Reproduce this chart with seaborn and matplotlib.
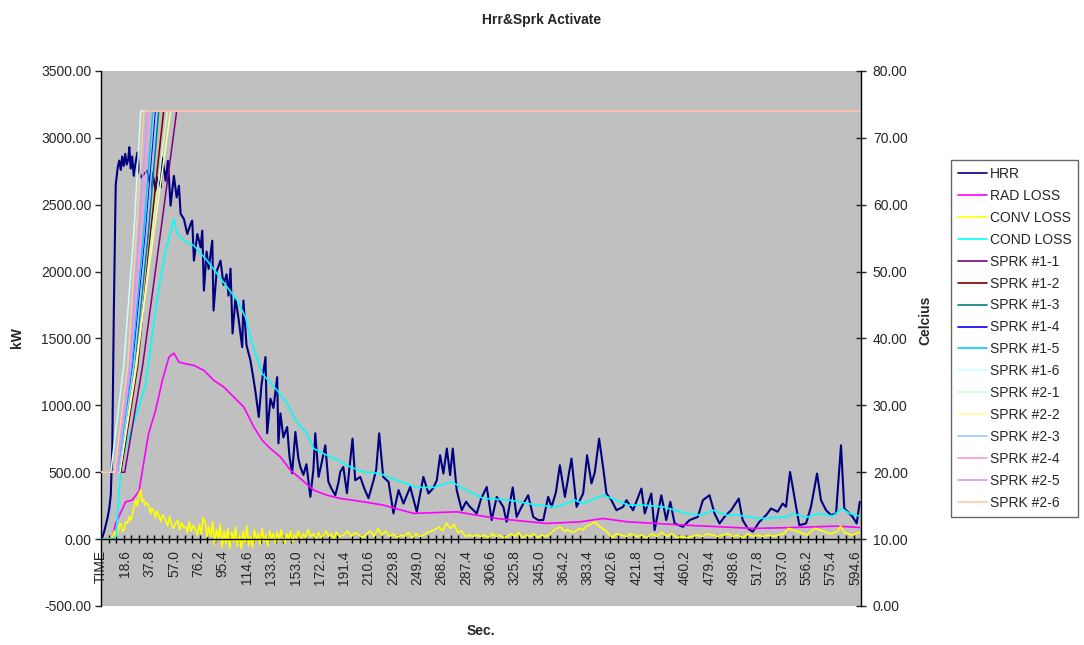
"""Hrr&Sprk Activate: curvas de HRR, perdas e ativação dos sprinklers."""

import numpy as np
import pandas as pd
import seaborn as sns
import matplotlib.pyplot as plt
from matplotlib.lines import Line2D
from matplotlib.ticker import FormatStrFormatter

# --- dados (tempo em s, potência em kW) ---
hrr_t = [0, 2.0, 4.5, 5.9, 7.1, 8.3, 9.5, 11.0, 12.6, 13.8,
         15.0, 16.1, 17.3, 18.5, 19.7, 20.9, 21.7, 22.8, 24.0, 25.2,
         26.4, 28.1, 29.5, 30.7, 33.3, 36.0, 38.6, 39.9, 42.5, 43.9,
         46.5, 47.8, 50.4, 52.2, 54.3, 56.9, 59.1, 60.9, 62.2, 64.8,
         67.5, 70.1, 71.4, 72.7, 75.4, 78.0, 79.3, 80.6, 82.7, 84.3,
         87.2, 88.2, 90.6, 93.7, 96.1, 98.5, 100.0, 101.6, 103.2, 105.5,
         107.9, 110.8, 111.8, 114.2, 117.3, 119.7, 121.3, 123.9, 126.0, 129.2,
         130.5, 133.1, 135.5, 138.4, 139.4, 141.0, 143.3, 146.3, 148.1, 150.2,
         152.8, 155.2, 156.7, 159.1, 161.5, 164.6, 167.0, 168.5, 171.1, 173.3,
         176.4, 178.8, 181.1, 184.3, 186.7, 188.2, 190.6, 193.5, 195.3, 197.9,
         200.0, 204.0, 207.1, 210.5, 214.5, 216.6, 218.9, 222.1, 226.3, 230.2,
         234.2, 238.1, 243.4, 248.6, 253.8, 257.8, 261.5, 264.4, 267.0, 269.6,
         272.3, 274.9, 277.0, 280.1, 284.1, 287.5, 290.6, 295.9, 299.3, 303.8,
         307.7, 311.7, 316.9, 319.5, 324.3, 327.4, 331.3, 336.5, 340.5, 344.4,
         348.4, 352.3, 355.0, 358.4, 361.5, 365.5, 370.7, 374.7, 379.9, 383.0,
         386.5, 389.1, 392.5, 395.6, 398.3, 402.2, 406.2, 411.4, 414.1, 419.3,
         425.9, 428.5, 433.7, 436.3, 441.6, 445.5, 448.7, 452.1, 458.6, 463.9,
         470.4, 474.4, 479.6, 483.6, 487.5, 491.4, 496.7, 502.7, 505.8, 509.8,
         513.7, 519.0, 524.3, 528.2, 533.4, 537.4, 540.0, 543.2, 546.6, 550.5,
         555.8, 559.7, 564.5, 567.6, 571.6, 575.5, 579.5, 583.4, 586.0, 590.0,
         592.6, 595.8, 598.2]
hrr_kw = [0, 60, 157, 230, 330, 700, 1700, 2650, 2780, 2830,
          2760, 2860, 2790, 2880, 2800, 2840, 2930, 2770, 2860, 2716,
          2800, 2890, 2750, 2704, 2730, 2754, 2629, 2741, 2605, 2704,
          2629, 2853, 2679, 2828, 2493, 2716, 2555, 2642, 2433, 2393,
          2281, 2356, 2381, 2082, 2281, 2181, 2306, 1858, 2150, 2020,
          2231, 1709, 2000, 2082, 1900, 1980, 1820, 2022, 1537, 1800,
          1650, 1435, 1784, 1450, 1336, 1200, 1100, 913, 1150, 1361,
          791, 1050, 980, 1211, 716, 940, 760, 838, 620, 493,
          801, 600, 540, 480, 560, 316, 520, 791, 465, 560,
          701, 430, 380, 328, 420, 502, 540, 343, 520, 751,
          440, 465, 380, 306, 440, 520, 791, 465, 428, 192,
          366, 266, 390, 204, 465, 341, 380, 440, 627, 490,
          677, 478, 677, 366, 216, 280, 241, 192, 300, 390,
          142, 316, 241, 129, 386, 166, 241, 328, 166, 142,
          142, 316, 241, 350, 552, 316, 602, 241, 341, 627,
          416, 500, 751, 540, 341, 291, 216, 241, 291, 216,
          378, 192, 341, 67, 328, 142, 279, 117, 92, 142,
          166, 291, 328, 192, 117, 166, 216, 303, 142, 80,
          55, 129, 179, 229, 204, 266, 241, 502, 316, 104,
          117, 241, 490, 291, 216, 179, 192, 701, 229, 192,
          166, 117, 279]

rad_t = [0, 8, 11, 15, 18.9, 24, 29.4, 34.7, 37, 42.5, 47.8, 53, 56.9, 60.9, 66,
         72.7, 80.6, 88.4, 96.3, 104.2, 112.1, 120, 126.6, 133.1, 141, 148.9,
         156.7, 167.2, 177.8, 188.2, 206.6, 222.3, 246, 280.1, 311.7, 351,
         377.3, 395.6, 415.3, 461.3, 513.7, 540, 579.5, 598]
rad_kw = [0, 0, 119, 200, 279, 291, 360, 664, 791, 963, 1187, 1361, 1390, 1323, 1311,
          1299, 1261, 1187, 1137, 1062, 987, 838, 739, 677, 614, 515,
          453, 366, 328, 304, 279, 254, 192, 204, 154, 117,
          129, 154, 129, 104, 80, 85, 97, 87]

cond_t = [0, 10, 11.5, 13.6, 16.3, 20.2, 26.8, 34.7, 39.9, 45.1, 50.4, 54.3, 56.9,
          59.6, 64.8, 72.7, 83.2, 91.1, 99, 106.9, 113.4, 118.7, 126.6, 138.4,
          146.3, 152.8, 162, 167.2, 177.8, 188.2, 196.1, 206.6, 219.7, 232.9,
          248.6, 261.7, 276.2, 285.3, 301.1, 322.1, 343.2, 358.9, 373.3, 379.9,
          395.6, 406.2, 415.3, 427.1, 442.9, 461.3, 473.1, 482.3, 492.8, 502,
          519, 540, 545.3, 555.8, 566.3, 576.8, 584.2, 590, 598]
cond_kw = [0, 0, 30, 366, 590, 739, 913, 1162, 1535, 1883, 2157, 2293, 2393,
           2281, 2231, 2194, 2082, 1983, 1883, 1784, 1659, 1461, 1237, 1112,
           1013, 888, 789, 677, 627, 580, 540, 502, 490, 440,
           386, 386, 428, 378, 304, 291, 254, 241, 291, 266,
           328, 291, 254, 254, 241, 192, 179, 216, 179, 179,
           154, 166, 192, 162, 192, 172, 229, 192, 172]

conv_t = [0, 6, 8, 10, 11, 12.4, 14, 15, 16.5, 17.6, 19, 20.5, 21.5, 23, 24.5, 26,
          26.8, 28, 29.4, 30.7, 31.5, 33, 34, 35.5, 37.3, 38.5, 39.5, 41.2, 42.5,
          43.5, 45.1, 46.5, 48, 50.4, 52, 53.5, 55, 56.5, 58.3, 60, 61.5, 63,
          64.5, 66.2, 67.5, 69, 70.5, 72, 74, 75.5, 77, 78.5, 80, 81.9, 83, 84.5,
          86, 87.5, 89, 90.5, 92, 93.5, 95, 96.5, 98, 99.5, 101, 102.5, 104,
          105.5, 107, 108.5, 110, 111.5, 113, 114.5, 116, 117.5, 119, 120.5, 122,
          123.5, 125, 126.5, 128, 129.5, 131, 132.5, 134, 135.5, 137, 138.5, 140,
          141.5, 143, 144.5, 146, 147.5, 149, 150.5, 152, 153.5, 155, 157, 159,
          161, 163, 165, 167, 169, 171, 173, 175, 177, 179, 181, 183, 185, 188,
          191, 194, 197, 200, 203, 206, 209, 212, 215, 218, 221, 224, 227, 230,
          233, 236, 239, 242, 245, 248, 251, 254, 257, 260, 263, 266, 269, 272,
          275, 278, 281, 284, 287, 290, 293, 296, 299, 302, 305, 308, 311, 314,
          317, 320, 323, 326, 329, 332, 335, 338, 341, 344, 347, 350, 353, 356,
          359, 362, 365, 368, 371, 374, 377, 380, 383, 386, 389, 392, 395, 398,
          401, 403, 406, 410, 414, 418, 422, 426, 430, 434, 438, 442, 446, 450,
          454, 458, 462, 466, 470, 474, 478, 482, 486, 490, 494, 498, 502, 506,
          510, 514, 518, 522, 526, 530, 534, 538, 542, 545, 548, 551, 554, 557,
          560, 563, 566, 569, 572, 575, 578, 581, 583, 586, 589, 592, 595, 598]
conv_kw = [0, 0, 10, 60, 20, 42, 110, 117, 60, 67, 130, 120, 166, 141, 200, 260,
           291, 250, 341, 366, 280, 300, 254, 270, 241, 190, 230, 204, 160,
           210, 179, 130, 180, 142, 100, 170, 110, 80, 117, 140, 70, 120,
           90, 92, 50, 130, 60, 100, 67, 30, 110, 40, 160, 117, 17, 90,
           20, 130, -40, 70, 0, 110, -60, 60, -30, 80, -70, 50, -20,
           90, -50, 30, -70, 60, -30, 100, -50, 20, -60, 70, -10,
           40, -40, 80, -20, 30, -50, 60, 0, 40, -30, 50, -10,
           70, 10, -30, 40, 0, 60, -20, 30, 10, 60, 0, 40,
           10, 70, 20, 40, 0, 50, 10, 30, 60, 20, 40, 0, 50, 20,
           30, 60, 20, 50, 30, 10, 40, 60, 20, 80, 30, 60, 20, 40,
           10, 30, 20, 50, 10, 40, 20, 30, 50, 60, 70, 90, 60, 120,
           80, 110, 50, 60, 20, 30, 20, 30, 20, 30, 10, 40, 20, 30,
           10, 20, 40, 20, 50, 10, 30, 20, 40, 10, 30, 20, 30, 60,
           80, 90, 60, 70, 50, 60, 80, 70, 100, 110, 129, 100, 80, 60,
           30, 10, 40, 30, 20, 40, 20, 30, 10, 40, 20, 50, 20, 40,
           10, 20, 10, 20, 30, 20, 40, 30, 20, 30, 40, 20, 30, 10,
           40, 20, 30, 20, 30, 20, 30, 40, 80, 70, 60, 50, 40, 30,
           60, 80, 70, 60, 50, 40, 50, 60, 97, 50, 40, 30, 40, 50]

kw_names = ['HRR', 'RAD LOSS', 'CONV LOSS', 'COND LOSS']
kw_colors = ['#000080', '#FF00FF', '#FFFF00', '#00FFFF']

# sprinklers (°C): instante em que cada curva passa por 20, 36, 56 e 74 °C
sprk_names = ['SPRK #1-1', 'SPRK #1-2', 'SPRK #1-3', 'SPRK #1-4', 'SPRK #1-5', 'SPRK #1-6',
              'SPRK #2-1', 'SPRK #2-2', 'SPRK #2-3', 'SPRK #2-4', 'SPRK #2-5', 'SPRK #2-6']
sprk_colors = ['#800080', '#800000', '#008080', '#0000FF', '#00CCFF', '#CCFFFF',
               '#CCFFCC', '#FFFF99', '#99CCFF', '#FF99CC', '#CC99FF', '#FFCC99']
sprk_levels = [20, 36, 56, 74]
sprk_t20 = [18.1, 15.0, 13.4, 12.6, 12.6, 7.1, 14.2, 14.2, 13.4, 11.8, 11.0, 10.2]
sprk_t36 = [32.3, 28.4, 26.0, 24.4, 23.6, 17.3, 27.6, 26.8, 25.2, 22.8, 22.1, 20.5]
sprk_t56 = [46.5, 38.6, 36.8, 34.7, 33.1, 25.4, 39.8, 41.2, 35.4, 31.5, 29.4, 27.3]
sprk_t74 = [59.1, 48.8, 44.9, 42.5, 40.2, 30.7, 51.7, 54.3, 43.3, 37.8, 36.0, 33.1]
t_end = 598.8

x_labels = ['TIME', '18.6', '37.8', '57.0', '76.2', '95.4', '114.6', '133.8', '153.0',
            '172.2', '191.4', '210.6', '229.8', '249.0', '268.2', '287.4', '306.6',
            '325.8', '345.0', '364.2', '383.4', '402.6', '421.8', '441.0', '460.2',
            '479.4', '498.6', '517.8', '537.0', '556.2', '575.4', '594.6']


def montar_kw():
    partes = []
    for nome, t, v in zip(kw_names, [hrr_t, rad_t, conv_t, cond_t],
                          [hrr_kw, rad_kw, conv_kw, cond_kw]):
        partes.append(pd.DataFrame({'t': t, 'valor': v, 'serie': nome}))
    return pd.concat(partes, ignore_index=True)


def montar_sprk():
    partes = []
    for i, nome in enumerate(sprk_names):
        t = [0, sprk_t20[i], sprk_t36[i], sprk_t56[i], sprk_t74[i], t_end]
        v = [sprk_levels[0]] + sprk_levels + [sprk_levels[-1]]
        partes.append(pd.DataFrame({'t': t, 'valor': v, 'serie': nome}))
    return pd.concat(partes, ignore_index=True)


sns.set_theme(style='ticks')
plt.rcParams['font.family'] = ['Liberation Sans', 'DejaVu Sans']
plt.rcParams['font.size'] = 10

df_kw = montar_kw()
df_sprk = montar_sprk()

fig = plt.figure(figsize=(10.84, 6.45), dpi=100)
ax = fig.add_axes([0.0932, 0.0605, 0.7011, 0.8295])
ax.set_facecolor('#C0C0C0')

for nome, cor in zip(kw_names, kw_colors):
    sub = df_kw[df_kw['serie'] == nome]
    sns.lineplot(data=sub, x='t', y='valor', color=cor, ax=ax, estimator=None,
                 sort=False, linewidth=1.5 if nome == 'HRR' else 1.2)

ax2 = ax.twinx()
for nome, cor in zip(sprk_names, sprk_colors):
    sub = df_sprk[df_sprk['serie'] == nome]
    sns.lineplot(data=sub, x='t', y='valor', color=cor, ax=ax2, estimator=None,
                 sort=False, linewidth=1.1)

# eixo x de categorias (passo de 0,6 s)
x_pos = [-0.6] + [float(s) for s in x_labels[1:]]
ax.set_xlim(-0.6, 599.2)
ax.set_xticks(x_pos)
ax.set_xticklabels(x_labels)
ax.set_xticks(np.arange(-0.6, 599, 6.0), minor=True)
ax.tick_params(axis='x', which='major', length=0, pad=8, labelsize=10,
               labelrotation=90)
ax.tick_params(axis='x', which='minor', length=6, width=1, direction='inout', color='black')
for rotulo in ax.get_xticklabels():
    rotulo.set_verticalalignment('top')
    rotulo.set_horizontalalignment('center')
ax.spines['bottom'].set_position(('data', 0))
ax.spines['top'].set_visible(False)
ax.spines['right'].set_visible(False)

ax.set_ylim(-500, 3500)
ax.set_yticks(np.arange(-500, 3501, 500))
ax.yaxis.set_major_formatter(FormatStrFormatter('%.2f'))
ax.tick_params(axis='y', length=4, width=1, direction='out', pad=3, labelsize=10)
ax.set_xlabel('')
ax.set_ylabel('')

ax2.set_ylim(0, 80)
ax2.set_yticks(np.arange(0, 81, 10))
ax2.yaxis.set_major_formatter(FormatStrFormatter('%.2f'))
ax2.tick_params(axis='y', length=7, width=1, direction='inout', pad=5, labelsize=10)
ax2.set_ylabel('')
for lado in ['top', 'bottom', 'left']:
    ax2.spines[lado].set_visible(False)
for eixo in [ax, ax2]:
    for sp in eixo.spines.values():
        sp.set_color('black')
        sp.set_linewidth(1)

fig.text(0.5, 1 - 20 / 645, 'Hrr&Sprk Activate', ha='center', va='center',
         fontsize=10, weight='bold')
fig.text(481 / 1084, 1 - 631 / 645, 'Sec.', ha='center', va='center',
         fontsize=10, weight='bold')
fig.text(17 / 1084, 1 - 338 / 645, 'kW', ha='center', va='center', rotation=90,
         fontsize=10, weight='bold')
fig.text(925 / 1084, 1 - 320 / 645, 'Celcius', ha='center', va='center', rotation=90,
         fontsize=10, weight='bold')

handles = [Line2D([], [], color=c, lw=1.2) for c in kw_colors + sprk_colors]
leg = fig.legend(handles, kw_names + sprk_names, loc='upper left',
                 bbox_to_anchor=(951 / 1084, 1 - 160 / 645), frameon=True,
                 fancybox=False, edgecolor='#404040', fontsize=10, handlelength=2.1,
                 handletextpad=0.2, labelspacing=0.57, borderpad=0.5, borderaxespad=0)
leg.get_frame().set_linewidth(1)
leg._legend_box.sep = 4

fig.savefig('out.png', dpi=100, facecolor='white')
